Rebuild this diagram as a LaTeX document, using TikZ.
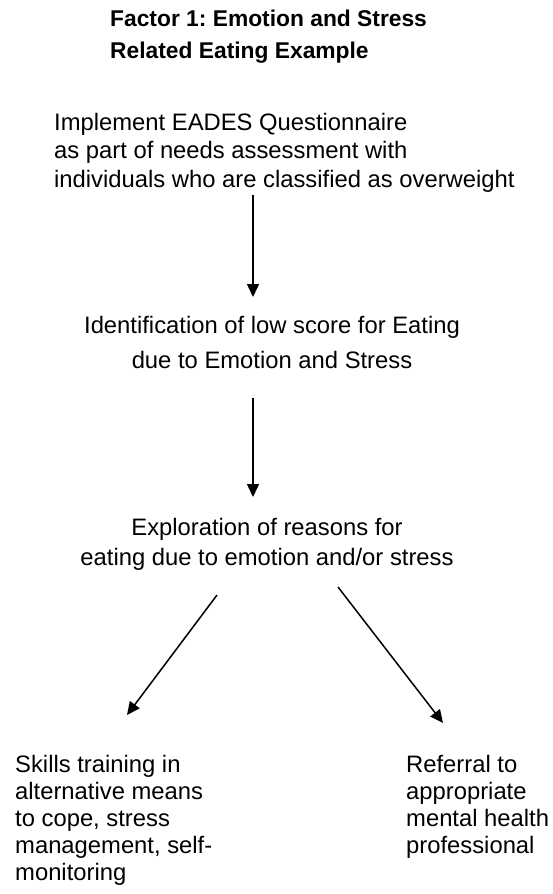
\documentclass[tikz,border=0pt]{standalone}
\usepackage{fontspec}
\setmainfont{Liberation Sans}
\usepackage{tikz}
\usetikzlibrary{arrows.meta,calc}
\frenchspacing

\begin{document}
\begin{tikzpicture}[
      x=1pt, y=-1pt,
      step text/.style={inner sep=0pt, align=left,
                    font=\fontsize{23.8}{28.5}\selectfont},
      mid text/.style={inner sep=0pt, align=center,
                    font=\fontsize{23.8}{30}\selectfont},
      title text/.style={inner sep=0pt, align=left,
                    font=\fontsize{22.8}{32}\selectfont\bfseries},
      arrow/.style={-{Triangle[width=12pt,length=13pt]}, line width=1.5pt, color=black}
    ]
      \useasboundingbox (0,0) rectangle (552,894);
      %% base anchor = baseline of the last line
      \node[title text, anchor=base west] (title) at (110,58)
          {Factor 1: Emotion and Stress\\Related Eating Example};
      \node[step text, anchor=base west] (quest) at (54,187)
          {Implement EADES Questionnaire\\
           as part of needs assessment with\\
           individuals who are classified as overweight};
      \node[mid text, anchor=base, font=\fontsize{23.8}{35}\selectfont] (low) at (272,368)
          {Identification of low score for Eating\\due to Emotion and Stress};
      \node[mid text, anchor=base] (explore) at (267,565)
          {Exploration of reasons for\\eating due to emotion and/or stress};
      \node[step text, anchor=base west, font=\fontsize{23.8}{27}\selectfont] (skills) at (15,880)
          {Skills training in\\alternative means\\to cope, stress\\management, self-\\monitoring};
      \node[step text, anchor=base west, font=\fontsize{23.8}{27}\selectfont] (referral) at (406,853)
          {Referral to\\appropriate\\mental health\\professional};
      %% main flow
      \draw[arrow] ($(quest.base west)+(199,8)$) -- ($(low.base)+(-19,-71)$);
      \draw[arrow] ($(low.base)+(-19,30)$) -- ($(explore.base)+(-14,-68)$);
      %% split into the two options
      \draw[arrow] ($(explore.base)+(-50,30)$) -- ($(skills.base west)+(112,-165)$);
      \draw[arrow] ($(explore.base)+(71,22)$) -- ($(referral.base west)+(37,-130)$);
    \end{tikzpicture}
\end{document}
